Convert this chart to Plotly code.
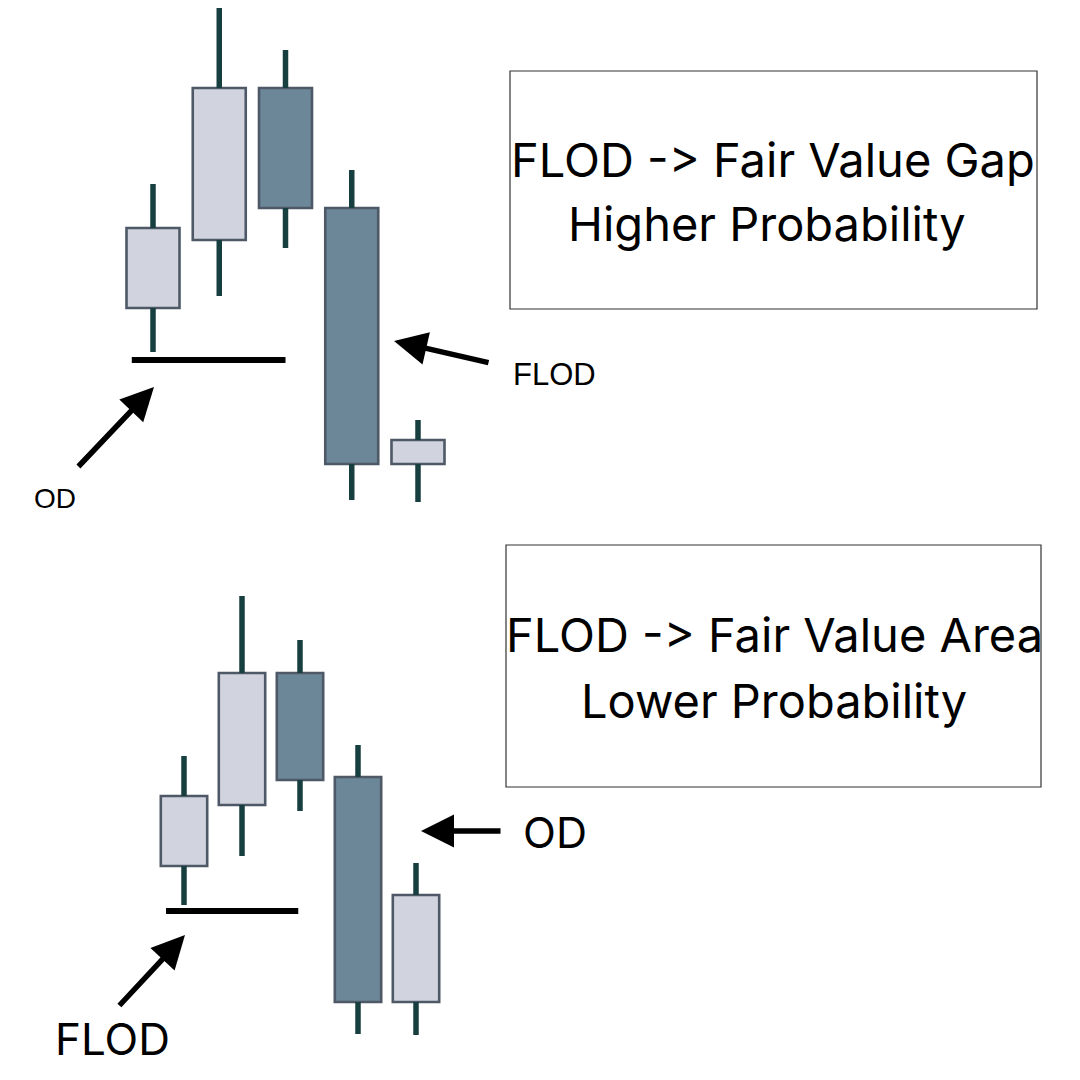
import plotly.graph_objects as go

# ---------------- data ----------------
candle_idx = [1, 2, 3, 4, 5]

# top panel (FLOD -> Fair Value Gap)
top_open = [53, 70, 108, 78, 14]
top_close = [73, 108, 78, 14, 20]
top_high = [84, 128, 117.5, 87.5, 25]
top_low = [42, 56, 68, 5, 4.5]
top_level = 40
top_level_span = [0.68, 3.0]

# bottom panel (FLOD -> Fair Value Area)
bot_open = [43.5, 58.75, 91.75, 65.75, 9.5]
bot_close = [61, 91.75, 65, 9.5, 36.25]
bot_high = [71, 111, 100, 73.75, 44.25]
bot_low = [33.75, 46, 57.25, 1.5, 1.25]
bot_level = 32.25
bot_level_span = [0.69, 2.97]

ZWNJ = "\u200c"  # keeps "->" from turning into an arrow ligature
top_title = ["FLOD -" + ZWNJ + "> Fair Value Gap", "Higher Probability"]
bot_title = ["FLOD -" + ZWNJ + "> Fair Value Area", "Lower Probability"]

# ---------------- styles ----------------
W = H = 1080
LIGHT = "#d1d4de"
DARK = "#6b8798"
OUTLINE = "#4e5866"
WICK = "#173f40"


def axis_ranges(x1_px, dx_px, y0_px, dy_px):
    xr = [1 - x1_px / dx_px, 1 + (W - x1_px) / dx_px]
    yr = [(y0_px - H) / dy_px, y0_px / dy_px]
    return xr, yr


top_xr, top_yr = axis_ranges(153, 66.25, 520, 4)
bot_xr, bot_yr = axis_ranges(184, 58, 1040, 4)

fig = go.Figure()


def add_panel(xa, ya, o, c, h, l, level, span, bw):
    wx, wy = [], []
    for i, x in enumerate(candle_idx):
        lo_body, hi_body = min(o[i], c[i]), max(o[i], c[i])
        wx += [x, x, None, x, x, None]
        wy += [l[i], lo_body, None, hi_body, h[i], None]
    fig.add_trace(go.Scatter(x=wx, y=wy, mode="lines", xaxis=xa, yaxis=ya,
                             line=dict(color=WICK, width=5.5), hoverinfo="skip",
                             showlegend=False))
    base = [min(a, b) for a, b in zip(o, c)]
    length = [abs(b - a) for a, b in zip(o, c)]
    colors = [LIGHT if b >= a else DARK for a, b in zip(o, c)]
    fig.add_trace(go.Bar(x=candle_idx, y=length, base=base, width=bw,
                         xaxis=xa, yaxis=ya,
                         marker=dict(color=colors, line=dict(color=OUTLINE, width=2.6)),
                         hoverinfo="skip", showlegend=False))
    fig.add_trace(go.Scatter(x=span, y=[level, level], mode="lines",
                             xaxis=xa, yaxis=ya,
                             line=dict(color="black", width=6), hoverinfo="skip",
                             showlegend=False))


add_panel("x", "y", top_open, top_close, top_high, top_low, top_level, top_level_span, 0.8)
add_panel("x2", "y2", bot_open, bot_close, bot_high, bot_low, bot_level, bot_level_span, 0.8)

ax_common = dict(visible=False, showgrid=False, zeroline=False, fixedrange=True)
fig.update_layout(
    width=W, height=H,
    margin=dict(l=0, r=0, t=0, b=0),
    paper_bgcolor="white", plot_bgcolor="rgba(0,0,0,0)",
    barmode="overlay", showlegend=False,
    xaxis=dict(domain=[0, 1], range=top_xr, anchor="y", **ax_common),
    yaxis=dict(domain=[0, 1], range=top_yr, anchor="x", **ax_common),
    xaxis2=dict(domain=[0, 1], range=bot_xr, anchor="y2", **ax_common),
    yaxis2=dict(domain=[0, 1], range=bot_yr, anchor="x2", **ax_common),
)

ann = []


def arrow(xr, yr, tip, tail):
    ann.append(dict(xref=xr, yref=yr, axref=xr, ayref=yr,
                    x=tip[0], y=tip[1], ax=tail[0], ay=tail[1],
                    text="", showarrow=True, arrowhead=2, arrowsize=1.2,
                    arrowwidth=5.5, arrowcolor="black", font=dict(size=1)))


def label(xr, yr, x, y, text, family, size):
    ann.append(dict(xref=xr, yref=yr, x=x, y=y, text=text, showarrow=False,
                    xanchor="center", yanchor="middle",
                    font=dict(family=family, size=size, color="black")))


# top panel annotations
arrow("x", "y", (1.015, 33.25), (-0.147, 13))
label("x", "y", -0.472, 5.5, "OD", "Liberation Sans", 28)
arrow("x", "y", (4.638, 44.75), (6.087, 39.25))
label("x", "y", 7.053, 36.5, "FLOD", "Liberation Sans", 31)

# bottom panel annotations
arrow("x2", "y2", (5.086, 52.25), (6.483, 52.25))
label("x2", "y2", 7.40, 52, "OD", "Inter", 43)
arrow("x2", "y2", (1.017, 26.25), (-0.138, 8.25))
label("x2", "y2", -0.233, 0.25, "FLOD", "Inter", 44)

# text boxes
shapes = []
for (x0, y0, x1, y1) in [(510, 71, 1037, 309), (506, 545, 1041, 787)]:
    shapes.append(dict(type="rect", xref="paper", yref="paper",
                       x0=x0 / W, x1=x1 / W, y0=1 - y1 / H, y1=1 - y0 / H,
                       line=dict(color="#333333", width=1.2), fillcolor="rgba(0,0,0,0)"))

for lines, cxs, ys in [(top_title, (773, 767), (159, 224)), (bot_title, (774, 774), (634, 700))]:
    for txt, cx, yy in zip(lines, cxs, ys):
        ann.append(dict(xref="paper", yref="paper", x=cx / W, y=1 - yy / H,
                        text=txt, showarrow=False, xanchor="center", yanchor="middle",
                        font=dict(family="Inter", size=47, color="black")))

fig.update_layout(annotations=ann, shapes=shapes)

fig.write_html("out.html", config={"displayModeBar": False},
               post_script="document.body.style.margin='0';")
